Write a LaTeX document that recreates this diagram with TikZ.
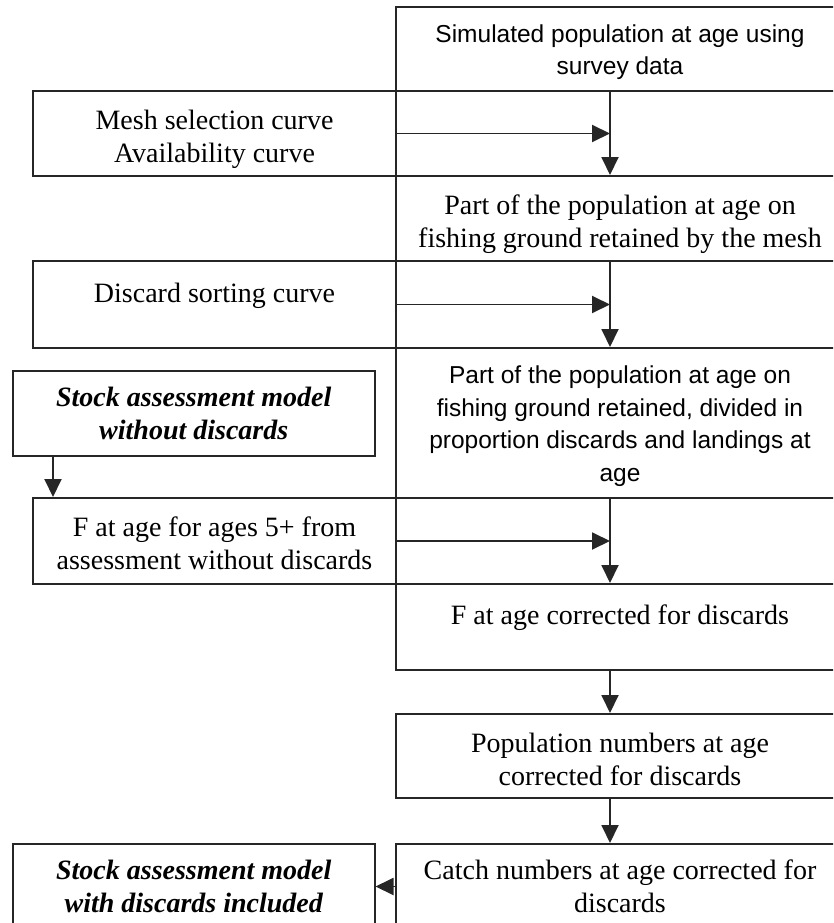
\documentclass[tikz,border=0pt]{standalone}
\usepackage{fontspec}
\setmainfont{Liberation Serif}
\newfontfamily\sansf{Liberation Sans}
\usetikzlibrary{arrows.meta}
\newcommand\dn[1]{\rule{0pt}{#1pt}}
\begin{document}
\begin{tikzpicture}[x=1pt,y=-1pt,
  box/.style={draw=black!85, line width=2pt, anchor=north west, inner sep=0pt,
    align=center, font=\fontsize{28}{33}\selectfont},
  sbox/.style={box, font=\sansf\fontsize{24.5}{32.5}\selectfont},
  bbox/.style={box, font=\fontsize{28}{33}\selectfont\bfseries\itshape},
  rcol/.style={minimum width=448pt},
  lcol/.style={minimum width=363pt},
  arr/.style={draw=black!85, line width=1.9pt, -{Triangle[length=18pt,width=17pt]}}]
\useasboundingbox (0,0) rectangle (833,923);
\clip (0,0) rectangle (833,923);
% right column
\node[sbox, rcol, minimum height=84pt] (sim) at (395,6) {\dn{24}Simulated population at age using\\survey data};
\node[box, rcol, minimum height=85pt] (part1) at (395,175) {\dn{31}Part of the population at age on\\fishing ground retained by the mesh};
\node[sbox, rcol, minimum height=150pt] (part2) at (395,347) {\dn{24}Part of the population at age on\\fishing ground retained, divided in\\proportion discards and landings at\\age};
\node[box, rcol, minimum height=86pt] (fcorr) at (395,583) {\dn{37}F at age corrected for discards\\\strut};
\node[box, rcol, minimum height=84pt] (pop) at (395,713) {\dn{27}Population numbers at age\\corrected for discards};
\node[box, rcol, minimum height=85pt] (catch) at (395,843) {Catch numbers at age corrected for\\discards};
% left column
\node[box, lcol, minimum height=85pt] (mesh) at (32,90) {\dn{31}Mesh selection curve\\Availability curve};
\node[box, lcol, minimum height=87pt] (disc) at (32,260) {\dn{39}Discard sorting curve\\\strut};
\node[box, lcol, minimum height=86pt] (fage) at (32,497) {\dn{24}F at age for ages 5+ from\\assessment without discards};
\node[bbox, minimum width=361.5pt, minimum height=85pt] (stock1) at (12,370) {Stock assessment model\\without discards};
\node[bbox, minimum width=361.5pt, minimum height=85pt] (stock2) at (12,843) {Stock assessment model\\with discards included};
% connector column
\coordinate (ax) at (610,0);
\coordinate (sx) at (53,0);
\draw[arr] (sim.south -| ax) -- (part1.north -| ax);
\draw[arr] (mesh.east) -- (mesh.east -| ax);
\draw[arr] (part1.south -| ax) -- (part2.north -| ax);
\draw[arr] (disc.east) -- (disc.east -| ax);
\draw[arr] (part2.south -| ax) -- (fcorr.north -| ax);
\draw[arr] (fage.east) -- (fage.east -| ax);
\draw[arr] (fcorr.south -| ax) -- (pop.north -| ax);
\draw[arr] (pop.south -| ax) -- (catch.north -| ax);
\draw[arr] (stock1.south -| sx) -- (fage.north -| sx);
\draw[arr] (catch.west) -- (stock2.east);
\end{tikzpicture}
\end{document}
